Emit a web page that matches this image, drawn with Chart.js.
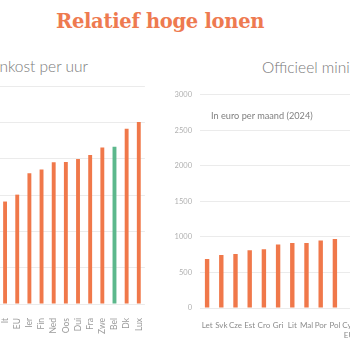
<!DOCTYPE html>
<html>
<head>
<meta charset="utf-8">
<script src="https://cdn.jsdelivr.net/npm/chart.js@4.4.1/dist/chart.umd.min.js"></script>
<style>
  html, body { margin: 0; padding: 0; width: 350px; height: 350px; overflow: hidden; background: #fff; }
  .box { position: absolute; }
  .txt { position: absolute; white-space: nowrap; font-family: "Lato", sans-serif; }
  #main { left: 56px; top: 12px; font-family: "DejaVu Serif", serif; font-weight: bold; font-size: 19.5px; letter-spacing: -0.3px; line-height: 1; color: #ee7a50; }
  #leftTitle { left: -25px; top: 59px; font-size: 15.5px; font-weight: 300; color: #7a7a7a; line-height: 1; }
  #rightTitle { left: 262px; top: 60px; font-size: 15.5px; font-weight: 300; color: #7a7a7a; line-height: 1; }
  #rightSub { left: 211px; top: 111px; font-size: 9.2px; color: #808080; line-height: 1; }
</style>
</head>
<body>
<div class="txt" id="main">Relatief hoge lonen</div>
<div class="txt" id="leftTitle">Loonkost per uur</div>
<div class="txt" id="rightTitle">Officieel minimumloon</div>

<div class="box" style="left:-1px; top:82px; width:156px; height:252px;"><canvas id="leftChart"></canvas></div>
<div class="box" style="left:175px; top:82px; width:186px; height:256px;"><canvas id="rightChart"></canvas></div>
<div class="txt" id="rightSub">In euro per maand (2024)</div>

<script>
// loonkost per uur (euro)
const costLabels = ["It", "EU", "Ier", "Fin", "Ned", "Oos", "Dui", "Fra", "Zwe", "Bel", "Dk", "Lux"];
const costValues = [28.2, 30.1, 36.0, 37.0, 39.0, 39.1, 39.9, 41.0, 43.1, 43.3, 48.2, 50.1];

// minimumloon per maand (euro, 2024)
const wageLabels = ["Let", "Svk", "Cze", "Est", "Cro", "Gri", "Lit", "Mal", "Por", "Pol", ["Cyp", "EU"]];
const wageValues = [690, 744, 758, 812, 825, 893, 912, 912, 947, 970, null];

const highlight = "Bel";
const orange = "#f0784a";
const green = "#5cb88c";
const gridColor = "#ebebeb";

Chart.defaults.font.family = "Lato";
Chart.defaults.animation = false;

const leftChart = new Chart(document.getElementById("leftChart"), {
  type: "bar",
  data: {
    labels: costLabels,
    datasets: [
      {
        data: costValues,
        backgroundColor: costLabels.map((l) => (l === highlight ? green : orange)),
        categoryPercentage: 1,
        barPercentage: 0.32,
      },
    ],
  },
  options: {
    responsive: true,
    maintainAspectRatio: false,
    layout: { padding: { top: 4, left: 0, right: 0, bottom: 0 } },
    plugins: { legend: { display: false }, tooltip: { enabled: false } },
    scales: {
      x: {
        grid: { display: false },
        border: { display: false },
        ticks: {
          autoSkip: false,
          minRotation: 90,
          maxRotation: 90,
          padding: 6,
          color: "#9a9a9a",
          font: { size: 8.5 },
        },
        afterFit: (scale) => { scale.height = 30; },
      },
      y: {
        min: 0,
        max: 60,
        ticks: { display: false, stepSize: 10 },
        grid: { color: gridColor, drawTicks: false },
        border: { display: false },
        afterFit: (scale) => { scale.width = 0; },
      },
    },
  },
});

const rightChart = new Chart(document.getElementById("rightChart"), {
  type: "bar",
  data: {
    labels: wageLabels,
    datasets: [
      {
        data: wageValues,
        backgroundColor: orange,
        categoryPercentage: 1,
        barPercentage: 0.31,
      },
    ],
  },
  options: {
    responsive: true,
    maintainAspectRatio: false,
    layout: { padding: { top: 4, left: 0, right: 0, bottom: 0 } },
    plugins: { legend: { display: false }, tooltip: { enabled: false } },
    scales: {
      x: {
        grid: { display: false },
        border: { display: false },
        ticks: {
          autoSkip: false,
          maxRotation: 0,
          padding: 5,
          color: "#8c8c8c",
          font: { size: 8 },
        },
        afterFit: (scale) => { scale.height = 30; },
      },
      y: {
        min: 0,
        max: 3000,
        ticks: {
          stepSize: 500,
          padding: 8,
          color: "#b0b0b0",
          font: { size: 7.5 },
          callback: (v) => String(v),
        },
        grid: { color: gridColor, drawTicks: false },
        border: { display: false },
        afterFit: (scale) => { scale.width = 25; },
      },
    },
  },
});
</script>
</body>
</html>
